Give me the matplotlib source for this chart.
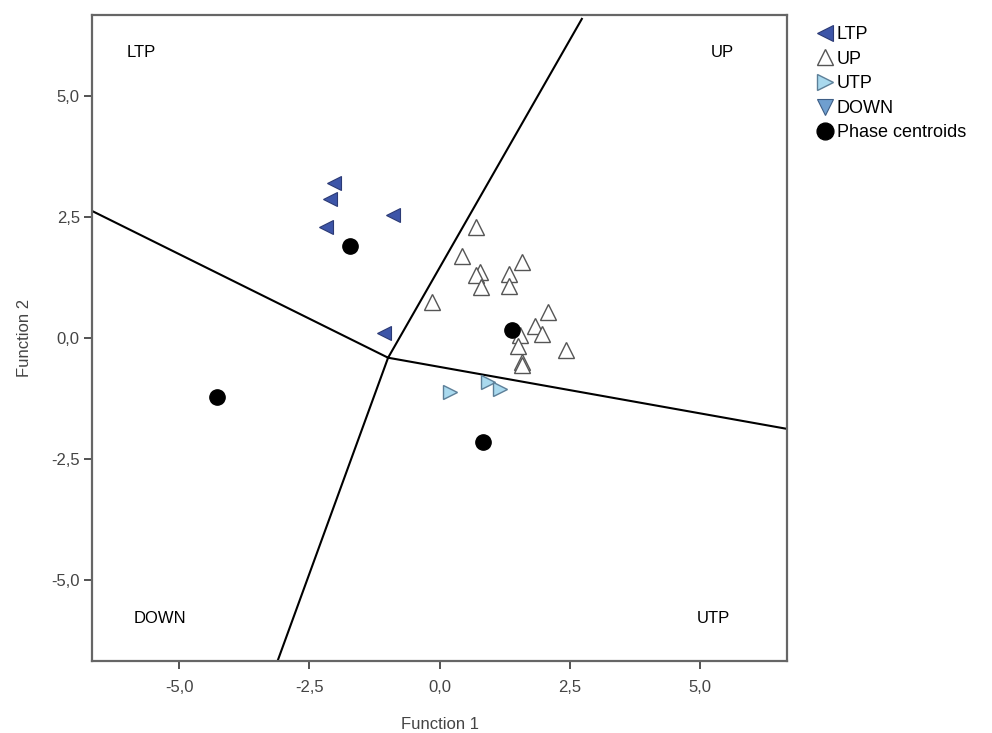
import numpy as np
import matplotlib.pyplot as plt
from matplotlib.ticker import FuncFormatter

plt.rcParams['font.family'] = ['Liberation Sans', 'DejaVu Sans']

# discriminant scores per group (Function 1, Function 2)
ltp_x = [-2.03, -2.11, -0.90, -2.19, -1.07]
ltp_y = [3.20, 2.87, 2.54, 2.29, 0.10]

up_x = [0.70, 0.42, 0.77, 0.70, 1.59, 1.34, 0.80, 1.33, -0.15, 2.08,
        1.84, 1.97, 1.54, 1.50, 2.43, 1.58, 1.59]
up_y = [2.29, 1.70, 1.36, 1.29, 1.56, 1.32, 1.05, 1.07, 0.74, 0.53,
        0.25, 0.08, 0.05, -0.16, -0.26, -0.50, -0.57]

utp_x = [0.20, 0.93, 1.15]
utp_y = [-1.12, -0.92, -1.05]

down_x = []
down_y = []

cent_x = [-1.73, 1.38, 0.83, -4.28]
cent_y = [1.90, 0.17, -2.15, -1.22]

# territorial map boundaries: common vertex and the four edge points
vertex = (-0.99, -0.41)
edge_x = [2.73, -6.67, 6.67, -3.11]
edge_y = [6.59, 2.62, -1.88, -6.67]

region_names = ['LTP', 'UP', 'DOWN', 'UTP']
region_x = [-5.72, 5.42, -5.38, 5.26]
region_y = [5.9, 5.9, -5.8, -5.8]

fig = plt.figure(figsize=(9.92, 7.33), dpi=100)
ax = fig.add_axes([0.093, 0.0986, 0.7004, 0.8809])

for ex, ey in zip(edge_x, edge_y):
    ax.plot([vertex[0], ex], [vertex[1], ey], color='black', lw=1.5, zorder=2)

ax.plot(up_x, up_y, ls='none', marker='^', ms=11, mfc='white', mec='#555555',
        mew=1.0, label='UP', zorder=3)
ax.plot(ltp_x, ltp_y, ls='none', marker='<', ms=10, mfc='#3D55A8', mec='#2B3A75',
        mew=0.8, label='LTP', zorder=3)
ax.plot(utp_x, utp_y, ls='none', marker='>', ms=10, mfc='#A9D9EE', mec='#5C7F98',
        mew=1.0, label='UTP', zorder=3)
ax.plot(down_x, down_y, ls='none', marker='v', ms=10, mfc='#6F9FCF', mec='#3E5E86',
        mew=0.8, label='DOWN', zorder=3)
ax.plot(cent_x, cent_y, ls='none', marker='o', ms=11, mfc='black', mec='black',
        label='Phase centroids', zorder=4)

for name, rx, ry in zip(region_names, region_x, region_y):
    ax.text(rx, ry, name, fontsize=12, ha='center', va='center', color='black')

ax.set_xlim(-6.67, 6.67)
ax.set_ylim(-6.67, 6.67)
ticks = [-5.0, -2.5, 0.0, 2.5, 5.0]
ax.set_xticks(ticks)
ax.set_yticks(ticks)
fmt = FuncFormatter(lambda v, p: ('%.1f' % v).replace('.', ','))
ax.xaxis.set_major_formatter(fmt)
ax.yaxis.set_major_formatter(fmt)
ax.tick_params(direction='out', length=6, width=1.3, color='#444444',
               labelsize=12, labelcolor='#444444')
ax.tick_params(axis='x', pad=8)
ax.tick_params(axis='y', pad=3)
for s in ax.spines.values():
    s.set_color('#666666')
    s.set_linewidth(1.6)

ax.set_xlabel('Function 1', fontsize=12, color='#444444', labelpad=16)
ax.set_ylabel('Function 2', fontsize=12, color='#444444', labelpad=14)

handles, labels = ax.get_legend_handles_labels()
order = ['LTP', 'UP', 'UTP', 'DOWN', 'Phase centroids']
hmap = dict(zip(labels, handles))
ax.legend([hmap[k] for k in order], order, loc='upper left',
          bbox_to_anchor=(1.035, 0.994), frameon=False, fontsize=13,
          handlelength=0.75, handletextpad=0.25, labelspacing=0.42,
          borderaxespad=0.0, markerscale=1.1)

fig.savefig('out.png', dpi=100)
